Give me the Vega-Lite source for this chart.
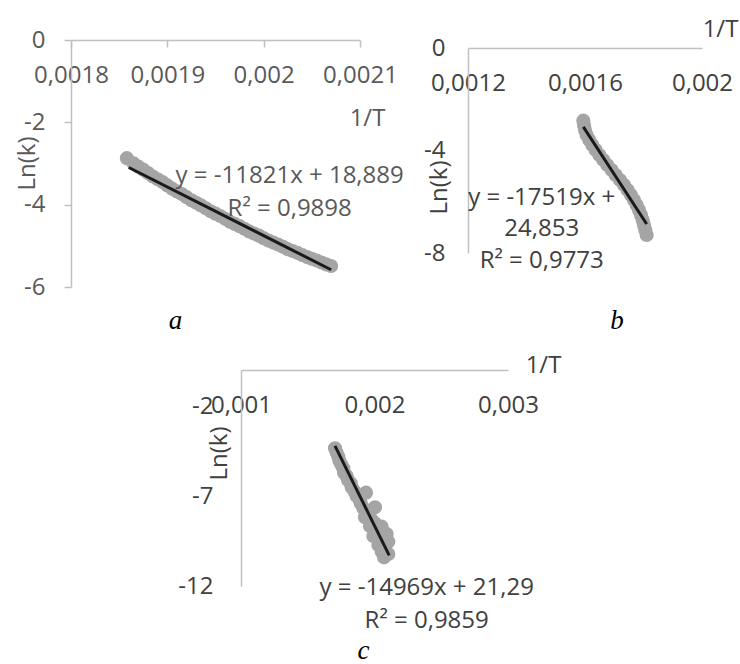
{
  "$schema": "https://vega.github.io/schema/vega-lite/v6.json",
  "autosize": "none",
  "padding": {"left": 71, "top": 40, "right": 669, "bottom": 624},
  "background": "white",
  "bounds": "flush",
  "spacing": 330,
  "vconcat": [
    {
      "bounds": "flush",
      "spacing": 108,
      "hconcat": [
        {
          "width": 289,
          "height": 247,
          "title": {"text": "a", "orient": "bottom", "anchor": "middle", "frame": "group", "dx": -40, "offset": 30, "font": "Liberation Serif", "fontStyle": "italic", "fontSize": 27, "fontWeight": "normal", "color": "#000000", "baseline": "alphabetic"},
          "encoding": {
            "x": {"field": "x", "type": "quantitative", "scale": {"domain": [0.0018, 0.0021], "nice": false, "zero": false},
              "axis": {"orient": "top", "values": [0.0018, 0.0019, 0.002, 0.0021], "format": "~g", "title": "1/T", "titleX": 296, "titleY": 78, "titleAlign": "center", "titleBaseline": "middle", "ticks": true, "tickSize": -7, "tickColor": "#c0c0c0", "tickWidth": 1.5, "labelPadding": -28, "labelBaseline": "middle", "labelColor": "#595959", "titleColor": "#595959"}},
            "y": {"field": "y", "type": "quantitative", "scale": {"domain": [-6, 0], "nice": false, "zero": false},
              "axis": {"orient": "left", "values": [0, -2, -4, -6], "format": "d", "title": "Ln(k)", "titleX": -44, "titleY": 123, "titleAlign": "center", "titleBaseline": "middle", "titleAngle": 270, "ticks": true, "tickSize": 7, "tickColor": "#c0c0c0", "tickWidth": 1.5, "labelPadding": 19, "labelColor": "#595959", "titleColor": "#595959"}}
          },
          "layer": [
            {
              "data": {"values": [
                {"x": 0.001858, "y": -2.87}, {"x": 0.001865, "y": -2.998}, {"x": 0.00187, "y": -3.077}, {"x": 0.001875, "y": -3.15},
                {"x": 0.00188, "y": -3.233}, {"x": 0.001885, "y": -3.315}, {"x": 0.00189, "y": -3.385}, {"x": 0.001895, "y": -3.452},
                {"x": 0.0019, "y": -3.533}, {"x": 0.001905, "y": -3.612}, {"x": 0.00191, "y": -3.678}, {"x": 0.001915, "y": -3.741},
                {"x": 0.00192, "y": -3.818}, {"x": 0.001925, "y": -3.894}, {"x": 0.00193, "y": -3.956}, {"x": 0.001935, "y": -4.018},
                {"x": 0.00194, "y": -4.089}, {"x": 0.001945, "y": -4.161}, {"x": 0.00195, "y": -4.219}, {"x": 0.001955, "y": -4.276},
                {"x": 0.00196, "y": -4.345}, {"x": 0.001965, "y": -4.413}, {"x": 0.00197, "y": -4.468}, {"x": 0.001975, "y": -4.522},
                {"x": 0.00198, "y": -4.586}, {"x": 0.001985, "y": -4.65}, {"x": 0.00199, "y": -4.702}, {"x": 0.001995, "y": -4.752},
                {"x": 0.002, "y": -4.813}, {"x": 0.002005, "y": -4.872}, {"x": 0.00201, "y": -4.921}, {"x": 0.002015, "y": -4.968},
                {"x": 0.00202, "y": -5.025}, {"x": 0.002025, "y": -5.081}, {"x": 0.00203, "y": -5.125}, {"x": 0.002035, "y": -5.17},
                {"x": 0.00204, "y": -5.222}, {"x": 0.002045, "y": -5.274}, {"x": 0.00205, "y": -5.315}, {"x": 0.002055, "y": -5.356},
                {"x": 0.00206, "y": -5.405}, {"x": 0.002065, "y": -5.452}, {"x": 0.00207, "y": -5.49}
              ]},
              "mark": {"type": "circle", "size": 200, "color": "#a5a5a5", "opacity": 1}
            },
            {
              "data": {"values": [{"x": 0.00186, "y": -3.098}, {"x": 0.00207, "y": -5.5805}]},
              "mark": {"type": "line", "color": "#1a1a1a", "strokeWidth": 3}
            },
            {
              "data": {"values": [
                {"x": 0.002027, "y": -3.466, "t": "y = -11821x + 18,889"},
                {"x": 0.002027, "y": -4.275, "t": "R² = 0,9898"}
              ]},
              "mark": {"type": "text", "font": "Open Sans", "fontSize": 24, "color": "#595959", "align": "center", "baseline": "alphabetic"},
              "encoding": {"text": {"field": "t"}}
            }
          ]
        },
        {
          "bounds": "flush",
          "spacing": 0,
          "vconcat": [
            {"width": 234, "height": 8, "data": {"values": []}, "mark": "point"},
            {
              "width": 234,
              "height": 205,
              "title": {"text": "b", "orient": "bottom", "anchor": "middle", "frame": "group", "dx": 32, "offset": 56, "font": "Liberation Serif", "fontStyle": "italic", "fontSize": 27, "fontWeight": "normal", "color": "#000000", "baseline": "alphabetic"},
              "encoding": {
                "x": {"field": "x", "type": "quantitative", "scale": {"domain": [0.0012, 0.002], "nice": false, "zero": false},
                  "axis": {"orient": "top", "values": [0.0012, 0.0016, 0.002], "format": "~g", "title": "1/T", "titleX": 252, "titleY": -19, "titleAlign": "center", "titleBaseline": "middle", "ticks": false, "labelPadding": -35, "labelBaseline": "middle", "labelColor": "#404040", "titleColor": "#404040"}},
                "y": {"field": "y", "type": "quantitative", "scale": {"domain": [-8, 0], "nice": false, "zero": false},
                  "axis": {"orient": "left", "values": [0, -4, -8], "format": "d", "title": "Ln(k)", "titleX": -29, "titleY": 139, "titleAlign": "center", "titleBaseline": "middle", "titleAngle": 270, "ticks": false, "labelPadding": 23, "labelColor": "#404040", "titleColor": "#404040"}}
              },
              "layer": [
                {
                  "data": {"values": [
                    {"x": 0.0015943, "y": -2.836}, {"x": 0.0015966, "y": -3.005}, {"x": 0.0016, "y": -3.2}, {"x": 0.0016057, "y": -3.395},
                    {"x": 0.0016148, "y": -3.59}, {"x": 0.001625, "y": -3.785}, {"x": 0.0016365, "y": -3.98}, {"x": 0.001649, "y": -4.176},
                    {"x": 0.0016627, "y": -4.371}, {"x": 0.0016763, "y": -4.566}, {"x": 0.0016912, "y": -4.761}, {"x": 0.0017048, "y": -4.956},
                    {"x": 0.0017197, "y": -5.151}, {"x": 0.0017333, "y": -5.346}, {"x": 0.0017459, "y": -5.541}, {"x": 0.0017573, "y": -5.737},
                    {"x": 0.0017675, "y": -5.932}, {"x": 0.0017766, "y": -6.127}, {"x": 0.0017846, "y": -6.322}, {"x": 0.0017915, "y": -6.517},
                    {"x": 0.0017972, "y": -6.712}, {"x": 0.0018017, "y": -6.907}, {"x": 0.0018063, "y": -7.102}, {"x": 0.0018108, "y": -7.298}
                  ]},
                  "mark": {"type": "circle", "size": 200, "color": "#a5a5a5", "opacity": 1}
                },
                {
                  "data": {"values": [{"x": 0.0015943, "y": -3.078}, {"x": 0.0018108, "y": -6.87}]},
                  "mark": {"type": "line", "color": "#1a1a1a", "strokeWidth": 3}
                },
                {
                  "data": {"values": [
                    {"x": 0.001452, "y": -6.127, "t": "y = -17519x +"},
                    {"x": 0.001452, "y": -7.337, "t": "24,853"},
                    {"x": 0.001452, "y": -8.585, "t": "R² = 0,9773"}
                  ]},
                  "mark": {"type": "text", "font": "Open Sans", "fontSize": 24, "color": "#404040", "align": "center", "baseline": "alphabetic"},
                  "encoding": {"text": {"field": "t"}}
                }
              ]
            }
          ]
        }
      ]
    },
    {
      "bounds": "flush",
      "spacing": 0,
      "hconcat": [
        {"width": 170, "height": 1, "data": {"values": []}, "mark": "point"},
        {
          "width": 267,
          "height": 216,
          "title": {"text": "c", "orient": "bottom", "anchor": "middle", "frame": "group", "dx": -11, "offset": 26, "font": "Liberation Serif", "fontStyle": "italic", "fontSize": 27, "fontWeight": "normal", "color": "#000000", "baseline": "alphabetic"},
          "encoding": {
            "x": {"field": "x", "type": "quantitative", "scale": {"domain": [0.001, 0.003], "nice": false, "zero": false},
              "axis": {"orient": "top", "values": [0.001, 0.002, 0.003], "format": "~g", "title": "1/T", "titleX": 302, "titleY": -5, "titleAlign": "center", "titleBaseline": "middle", "ticks": false, "labelPadding": -35, "labelBaseline": "middle", "labelColor": "#404040", "titleColor": "#404040"}},
            "y": {"field": "y", "type": "quantitative", "scale": {"domain": [-12, 0], "nice": false, "zero": false},
              "axis": {"orient": "left", "values": [-2, -7, -12], "format": "d", "title": "Ln(k)", "titleX": -22, "titleY": 83, "titleAlign": "center", "titleBaseline": "middle", "titleAngle": 270, "ticks": false, "labelPadding": 28, "labelColor": "#404040", "titleColor": "#404040"}}
          },
          "layer": [
            {
              "data": {"values": [
                {"x": 0.0017041, "y": -4.352}, {"x": 0.0017166, "y": -4.593}, {"x": 0.0017291, "y": -4.815}, {"x": 0.0017366, "y": -5.037},
                {"x": 0.0017516, "y": -5.259}, {"x": 0.0017665, "y": -5.463}, {"x": 0.0017715, "y": -5.704}, {"x": 0.0017915, "y": -5.889},
                {"x": 0.0018015, "y": -6.111}, {"x": 0.0018215, "y": -6.296}, {"x": 0.001829, "y": -6.519}, {"x": 0.0019363, "y": -6.815},
                {"x": 0.0018514, "y": -6.759}, {"x": 0.0018664, "y": -7.0}, {"x": 0.0018864, "y": -7.185}, {"x": 0.0018964, "y": -7.407},
                {"x": 0.0020037, "y": -7.63}, {"x": 0.0019164, "y": -7.685}, {"x": 0.0019413, "y": -7.926}, {"x": 0.0019613, "y": -8.056},
                {"x": 0.0019288, "y": -8.185}, {"x": 0.0019788, "y": -8.333}, {"x": 0.0020037, "y": -8.519}, {"x": 0.0019663, "y": -8.667},
                {"x": 0.0020537, "y": -8.704}, {"x": 0.0020162, "y": -8.889}, {"x": 0.0020912, "y": -9.111}, {"x": 0.0019913, "y": -9.222},
                {"x": 0.0020412, "y": -9.352}, {"x": 0.0021036, "y": -9.537}, {"x": 0.0020287, "y": -9.722}, {"x": 0.0020787, "y": -9.852},
                {"x": 0.0020537, "y": -10.093}, {"x": 0.0021036, "y": -10.222}, {"x": 0.0020712, "y": -10.407}
              ]},
              "mark": {"type": "circle", "size": 200, "color": "#a5a5a5", "opacity": 1}
            },
            {
              "data": {"values": [{"x": 0.001704, "y": -4.217}, {"x": 0.00211, "y": -10.295}]},
              "mark": {"type": "line", "color": "#1a1a1a", "strokeWidth": 3}
            },
            {
              "data": {"values": [
                {"x": 0.002391, "y": -12.5, "t": "y = -14969x + 21,29"},
                {"x": 0.002391, "y": -14.35, "t": "R² = 0,9859"}
              ]},
              "mark": {"type": "text", "font": "Open Sans", "fontSize": 24, "color": "#404040", "align": "center", "baseline": "alphabetic"},
              "encoding": {"text": {"field": "t"}}
            }
          ]
        }
      ]
    }
  ],
  "config": {
    "view": {"stroke": null},
    "locale": {"number": {"decimal": ",", "thousands": " ", "grouping": [3], "currency": ["", ""], "minus": "-"}},
    "font": "Open Sans",
    "axis": {"grid": false, "domainColor": "#c0c0c0", "domainWidth": 1.5, "labelFont": "Open Sans", "labelFontSize": 24, "titleFont": "Open Sans", "titleFontSize": 24, "titleFontWeight": "normal", "labelFlush": false, "labelOverlap": false, "labelBound": false}
  }
}
